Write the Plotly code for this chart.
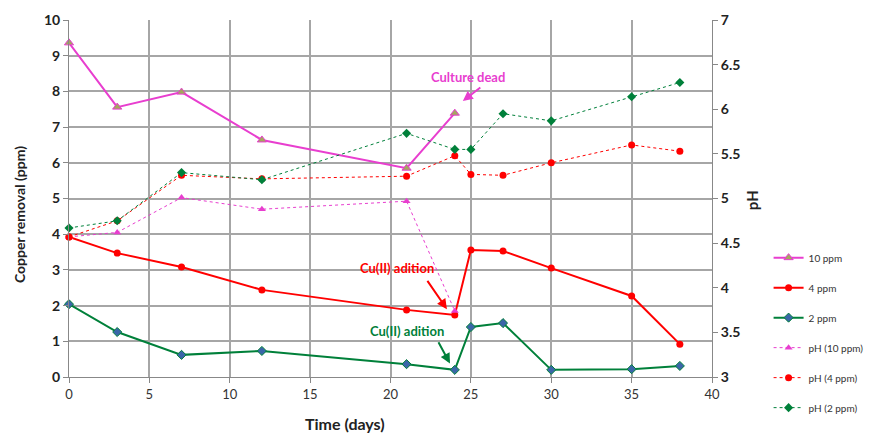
import plotly.graph_objects as go

# ---- data ----
days_10 = [0, 3, 7, 12, 21, 24]
days_full = [0, 3, 7, 12, 21, 24, 25, 27, 30, 35, 38]

cu_10ppm = [9.36, 7.56, 7.98, 6.64, 5.85, 7.39]
cu_4ppm = [3.92, 3.47, 3.08, 2.44, 1.88, 1.74, 3.56, 3.53, 3.05, 2.27, 0.92]
cu_2ppm = [2.04, 1.26, 0.62, 0.73, 0.36, 0.20, 1.40, 1.51, 0.20, 0.22, 0.31]

ph_10ppm = [4.57, 4.62, 5.01, 4.88, 4.97, 3.74]
ph_4ppm = [4.57, 4.75, 5.26, 5.22, 5.25, 5.48, 5.27, 5.26, 5.40, 5.60, 5.53]
ph_2ppm = [4.67, 4.75, 5.29, 5.21, 5.73, 5.55, 5.55, 5.95, 5.87, 6.14, 6.30]

x_ticks = [0, 5, 10, 15, 20, 25, 30, 35, 40]
y_left_ticks = list(range(0, 11))
y_right_ticks = [3, 3.5, 4, 4.5, 5, 5.5, 6, 6.5, 7]
y_right_labels = ["3", "3.5", "4", "4.5", "5", "5.5", "6", "6.5", "7"]

PINK = "#E83ECF"
RED = "#FF0000"
GREEN = "#00803A"
FONT = "Lato, 'Open Sans', sans-serif"

fig = go.Figure()

fig.add_trace(go.Scatter(x=days_10, y=cu_10ppm, name="10 ppm", mode="lines+markers",
                         line=dict(color=PINK, width=2), cliponaxis=False,
                         marker=dict(symbol="triangle-up", size=8, color="#A4A75E",
                                     line=dict(color=PINK, width=1)),
                         legendgroup="a"))
fig.add_trace(go.Scatter(x=days_full, y=cu_4ppm, name="4 ppm", mode="lines+markers",
                         line=dict(color=RED, width=2), cliponaxis=False,
                         marker=dict(symbol="circle", size=7, color=RED),
                         legendgroup="b"))
fig.add_trace(go.Scatter(x=days_full, y=cu_2ppm, name="2 ppm", mode="lines+markers",
                         line=dict(color=GREEN, width=2), cliponaxis=False,
                         marker=dict(symbol="diamond", size=7, color="#3A66A8",
                                     line=dict(color=GREEN, width=1)),
                         legendgroup="c"))
fig.add_trace(go.Scatter(x=days_10, y=ph_10ppm, name="pH (10 ppm)", mode="lines+markers",
                         line=dict(color=PINK, width=1, dash="dot"), cliponaxis=False,
                         marker=dict(symbol="triangle-up", size=7, color=PINK),
                         yaxis="y2", legendgroup="d"))
fig.add_trace(go.Scatter(x=days_full, y=ph_4ppm, name="pH (4 ppm)", mode="lines+markers",
                         line=dict(color=RED, width=1, dash="dot"), cliponaxis=False,
                         marker=dict(symbol="circle", size=7, color=RED),
                         yaxis="y2", legendgroup="e"))
fig.add_trace(go.Scatter(x=days_full, y=ph_2ppm, name="pH (2 ppm)", mode="lines+markers",
                         line=dict(color=GREEN, width=1, dash="dot"), cliponaxis=False,
                         marker=dict(symbol="diamond", size=7, color=GREEN),
                         yaxis="y2", legendgroup="f"))

GRID = "#A6A6A6"

# page body adds an 8px offset, so the figure is sized to fit inside the window
fig.update_layout(
    width=864, height=426,
    margin=dict(l=61, r=160, t=12, b=57, autoexpand=False),
    paper_bgcolor="white", plot_bgcolor="white",
    font=dict(family=FONT, size=12, color="#222222"),
    showlegend=True,
    legend=dict(x=1.088, y=0.375, xanchor="left", yanchor="top",
                traceorder="grouped", tracegroupgap=11,
                font=dict(size=10, color="#333333"),
                bgcolor="rgba(0,0,0,0)"),
    xaxis=dict(range=[0, 40], tickvals=x_ticks, showgrid=True, gridcolor=GRID, gridwidth=1.5,
               zeroline=False, showline=True, linecolor="#888888", linewidth=1,
               ticks="outside", ticklen=5, tickcolor="#888888", automargin=False,
               tickfont=dict(size=13, color="#333333")),
    yaxis=dict(range=[0, 10], tickvals=y_left_ticks, showgrid=True, gridcolor=GRID, gridwidth=1.5,
               zeroline=False, showline=True, linecolor="#888888", linewidth=1,
               ticks="outside", ticklen=5, tickcolor="#888888", automargin=False,
               tickfont=dict(size=14, color="#222222", family=FONT, weight="bold")),
    yaxis2=dict(range=[3, 7], tickvals=y_right_ticks, ticktext=y_right_labels,
                overlaying="y", side="right", showgrid=False, zeroline=False,
                showline=True, linecolor="#888888", linewidth=1, automargin=False,
                ticks="outside", ticklen=5, tickcolor="#888888",
                tickfont=dict(size=14, color="#222222", family=FONT, weight="bold")),
)

annotations = [
    dict(text="<b>Time (days)</b>", xref="paper", yref="paper", x=0.429, y=-0.13,
         showarrow=False, font=dict(size=16, color="#222222"), xanchor="center", yanchor="middle"),
    dict(text="<b>Copper removal (ppm)</b>", xref="paper", yref="paper", x=-0.076, y=0.454,
         showarrow=False, textangle=-90, font=dict(size=14, color="#222222"),
         xanchor="center", yanchor="middle"),
    dict(text="<b>pH</b>", xref="paper", yref="paper", x=1.062, y=0.495,
         showarrow=False, textangle=-90, font=dict(size=15, color="#222222"),
         xanchor="center", yanchor="middle"),
    dict(text="<b>Culture dead</b>", x=24.82, y=8.40, xref="x", yref="y",
         showarrow=False, font=dict(size=13, color=PINK)),
    dict(text=" ", x=24.5, y=7.73, xref="x", yref="y", ax=18, ay=-14,
         font=dict(size=1), borderpad=0,
         showarrow=True, arrowhead=2, arrowsize=1, arrowwidth=2, arrowcolor=PINK),
    dict(text="<b>Cu(II) adition</b>", x=20.4, y=3.05, xref="x", yref="y",
         showarrow=False, font=dict(size=13, color=RED)),
    dict(text=" ", x=23.51, y=1.90, xref="x", yref="y", ax=-20, ay=-29,
         font=dict(size=1), borderpad=0,
         showarrow=True, arrowhead=2, arrowsize=1, arrowwidth=2, arrowcolor=RED),
    dict(text="<b>Cu(II) adition</b>", x=21.03, y=1.29, xref="x", yref="y",
         showarrow=False, font=dict(size=13, color=GREEN)),
    dict(text=" ", x=23.7, y=0.38, xref="x", yref="y", ax=-12, ay=-22,
         font=dict(size=1), borderpad=0,
         showarrow=True, arrowhead=2, arrowsize=1, arrowwidth=2, arrowcolor=GREEN),
]
fig.update_layout(annotations=annotations)

fig.write_html("out.html")
